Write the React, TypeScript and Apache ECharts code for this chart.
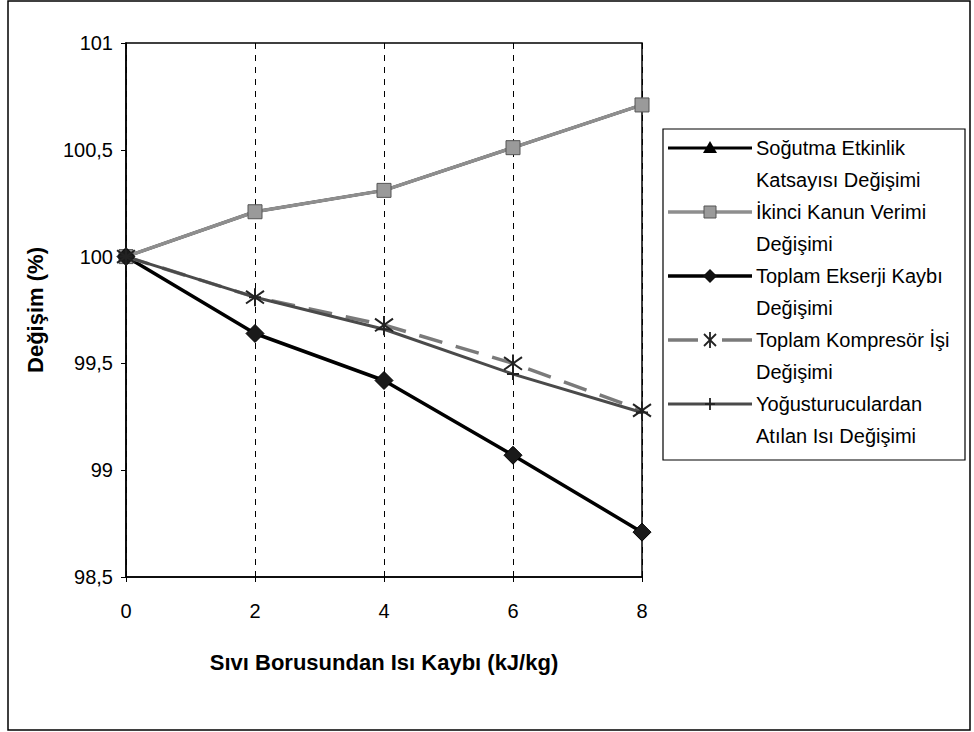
import React, { useEffect, useRef } from "react";
import * as echarts from "echarts";

// Heat loss from the liquid line (kJ/kg)
const heatLoss = [0, 2, 4, 6, 8];

// Relative change of each quantity (%)
const sogutmaEtkinlik = [100, 100.21, 100.31, 100.51, 100.71];
const ikinciKanun = [100, 100.21, 100.31, 100.51, 100.71];
const toplamEkserji = [100, 99.64, 99.42, 99.07, 98.71];
const kompresorIsi = [100, 99.81, 99.68, 99.5, 99.28];
const yogusturucu = [100, 99.81, 99.66, 99.45, 99.27];

const yTicks = [98.5, 99, 99.5, 100, 100.5, 101];

const FONT = "'Liberation Sans', Arial, sans-serif";

type Marker = "triangle" | "square" | "diamond" | "asterisk" | "plus";

const seriesDefs: {
  name: string[];
  data: number[];
  color: string;
  width: number;
  dashed: boolean;
  marker: Marker;
}[] = [
  { name: ["Soğutma Etkinlik", "Katsayısı Değişimi"], data: sogutmaEtkinlik, color: "#000000", width: 3, dashed: false, marker: "triangle" },
  { name: ["İkinci Kanun Verimi", "Değişimi"], data: ikinciKanun, color: "#8e8e8e", width: 3.5, dashed: false, marker: "square" },
  { name: ["Toplam Ekserji Kaybı", "Değişimi"], data: toplamEkserji, color: "#000000", width: 3.5, dashed: false, marker: "diamond" },
  { name: ["Toplam Kompresör İşi", "Değişimi"], data: kompresorIsi, color: "#7a7a7a", width: 3.5, dashed: true, marker: "asterisk" },
  { name: ["Yoğusturuculardan", "Atılan Isı Değişimi"], data: yogusturucu, color: "#4a4a4a", width: 3, dashed: false, marker: "plus" },
];

const ASTERISK = "path://M10,0 L10,20 M3,3 L17,17 M3,17 L17,3";
const PLUS = "path://M0,6 L12,6 M6,0 L6,12";

function symbolOf(m: Marker) {
  switch (m) {
    case "triangle":
      return { symbol: "triangle", symbolSize: 12, itemStyle: { color: "#000" } };
    case "square":
      return { symbol: "rect", symbolSize: 14, itemStyle: { color: "#9a9a9a", borderColor: "#555", borderWidth: 1 } };
    case "diamond":
      return { symbol: "diamond", symbolSize: 18, itemStyle: { color: "#1a1a1a", borderColor: "#000", borderWidth: 1 } };
    case "asterisk":
      return { symbol: ASTERISK, symbolSize: 18, itemStyle: { color: "rgba(0,0,0,0)", borderColor: "#222", borderWidth: 2 } };
    default:
      return { symbol: PLUS, symbolSize: 12, itemStyle: { color: "rgba(0,0,0,0)", borderColor: "#222", borderWidth: 2 } };
  }
}

function legendMarker(m: Marker, cx: number, cy: number): any {
  switch (m) {
    case "triangle":
      return { type: "polygon", shape: { points: [[cx - 7, cy + 5], [cx + 7, cy + 5], [cx, cy - 7]] }, style: { fill: "#000" } };
    case "square":
      return { type: "rect", shape: { x: cx - 6, y: cy - 6, width: 12, height: 12 }, style: { fill: "#9a9a9a", stroke: "#555", lineWidth: 1 } };
    case "diamond":
      return { type: "polygon", shape: { points: [[cx, cy - 7], [cx + 7, cy], [cx, cy + 7], [cx - 7, cy]] }, style: { fill: "#111" } };
    case "asterisk":
      return {
        type: "group",
        children: [
          { type: "line", shape: { x1: cx, y1: cy - 8, x2: cx, y2: cy + 8 }, style: { stroke: "#222", lineWidth: 1.8 } },
          { type: "line", shape: { x1: cx - 6, y1: cy - 6, x2: cx + 6, y2: cy + 6 }, style: { stroke: "#222", lineWidth: 1.8 } },
          { type: "line", shape: { x1: cx - 6, y1: cy + 6, x2: cx + 6, y2: cy - 6 }, style: { stroke: "#222", lineWidth: 1.8 } },
        ],
      };
    default:
      return {
        type: "group",
        children: [
          { type: "line", shape: { x1: cx, y1: cy - 6, x2: cx, y2: cy + 6 }, style: { stroke: "#222", lineWidth: 1.8 } },
          { type: "line", shape: { x1: cx - 5, y1: cy, x2: cx + 5, y2: cy }, style: { stroke: "#222", lineWidth: 1.8 } },
        ],
      };
  }
}

export default function App() {
  const ref = useRef<HTMLDivElement>(null);

  useEffect(() => {
    document.body.style.margin = "0";
    if (!ref.current) return;
    const chart = echarts.init(ref.current, null, { renderer: "svg" });

    const series = seriesDefs.map((s) => ({
      type: "line",
      name: s.name.join(" "),
      data: heatLoss.map((x, i) => [x, s.data[i]]),
      lineStyle: { color: s.color, width: s.width, type: s.dashed ? [24, 14] : "solid" },
      showSymbol: true,
      ...symbolOf(s.marker),
    }));

    // Legend box with one icon + two-line label per series
    const lx0 = 668;
    const lx1 = 752;
    const legendChildren: any[] = [
      { type: "rect", shape: { x: 663, y: 129, width: 302, height: 331 }, style: { fill: "#fff", stroke: "#000", lineWidth: 1.2 } },
    ];
    seriesDefs.forEach((s, i) => {
      const y = 148 + i * 64;
      const cx = (lx0 + lx1) / 2;
      if (s.dashed) {
        legendChildren.push(
          { type: "line", shape: { x1: lx0, y1: y, x2: cx - 12, y2: y }, style: { stroke: s.color, lineWidth: s.width } },
          { type: "line", shape: { x1: cx + 12, y1: y, x2: lx1, y2: y }, style: { stroke: s.color, lineWidth: s.width } }
        );
      } else {
        legendChildren.push({ type: "line", shape: { x1: lx0, y1: y, x2: lx1, y2: y }, style: { stroke: s.color, lineWidth: s.width } });
      }
      legendChildren.push(legendMarker(s.marker, cx, y));
      s.name.forEach((line, k) => {
        legendChildren.push({
          type: "text",
          x: 756,
          y: y + k * 32,
          style: { text: line, font: `20px ${FONT}`, fill: "#000", textVerticalAlign: "middle", textAlign: "left" },
        });
      });
    });

    chart.setOption({
      animation: false,
      backgroundColor: "#fff",
      grid: { left: 126, top: 43, width: 516, height: 534, show: true, borderColor: "#000", borderWidth: 1.5 },
      xAxis: {
        type: "value",
        min: 0,
        max: 8,
        interval: 2,
        name: "Sıvı Borusundan Isı Kaybı (kJ/kg)",
        nameLocation: "middle",
        nameGap: 74,
        nameTextStyle: { fontFamily: FONT, fontWeight: "bold", fontSize: 22, color: "#000" },
        axisLine: { show: true, lineStyle: { color: "#000", width: 1.5 } },
        axisTick: { show: true, inside: false, length: 5, lineStyle: { color: "#000" } },
        axisLabel: { fontFamily: FONT, fontSize: 20, color: "#000", margin: 24 },
        splitLine: { show: true, lineStyle: { color: "#000", width: 1, type: [6, 6] } },
      },
      yAxis: {
        type: "value",
        min: yTicks[0],
        max: yTicks[yTicks.length - 1],
        interval: 0.5,
        name: "Değişim (%)",
        nameLocation: "middle",
        nameGap: 80,
        nameRotate: 90,
        nameTextStyle: { fontFamily: FONT, fontWeight: "bold", fontSize: 22, color: "#000" },
        axisLine: { show: true, lineStyle: { color: "#000", width: 1.5 } },
        axisTick: { show: true, inside: false, length: 5, lineStyle: { color: "#000" } },
        axisLabel: {
          fontFamily: FONT,
          fontSize: 20,
          color: "#000",
          margin: 13,
          formatter: (v: number) => String(v).replace(".", ","),
        },
        splitLine: { show: false },
      },
      series,
      graphic: [
        { type: "rect", shape: { x: 8, y: 1, width: 962, height: 729 }, style: { fill: "none", stroke: "#000", lineWidth: 1.5 }, silent: true },
        { type: "group", children: legendChildren },
      ],
    });

    return () => chart.dispose();
  }, []);

  return <div ref={ref} style={{ position: "absolute", left: 0, top: 0, width: 974, height: 732 }} />;
}
